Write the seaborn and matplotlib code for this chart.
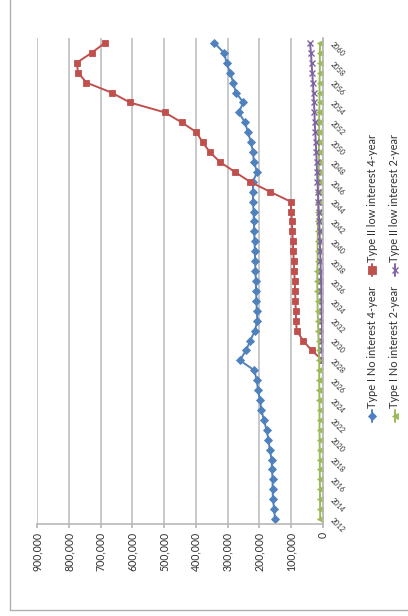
import numpy as np
import pandas as pd
import matplotlib
matplotlib.use("Agg")
import matplotlib.pyplot as plt
import seaborn as sns
from matplotlib.lines import Line2D

# Periods on the category axis (one label every second period)
periods = [str(y) for y in range(2012, 2061)]
nan = np.nan

type1_no_interest_4yr = [
    150500, 153000, 157000, 158000, 158000, 160000, 161000, 167000, 171000, 177000,
    186000, 193000, 198000, 204000, 208000, 216000, 261000, 242000, 228000, 214000,
    206000, 208000, 209000, 210000, 211000, 212000, 213000, 214000, 215000, 216000,
    217000, 218000, 220000, 220000, 220000, 207000, 217000, 220000, 226000, 236000,
    245000, 265000, 250000, 274000, 282000, 292000, 303000, 311000, 342000,
]
type2_low_interest_4yr = [nan] * 16 + [
    0, 35000, 62000, 82000, 84000, 85000, 86000, 87000, 88000, 90000,
    91000, 93000, 94000, 96000, 97000, 99000, 101000, 166000, 229000, 277000,
    324000, 356000, 379000, 398000, 445000, 498000, 608000, 666000, 745000, 771000,
    776000, 729000, 687000,
]
type1_no_interest_2yr = [
    8000, 8000, 8500, 8500, 9000, 9000, 9000, 9500, 9500, 10000,
    10000, 10000, 10500, 10500, 11000, 11000, 11000, 12000, 13000, 14000,
    15000, 16000, 16000, 17000, 17000, 17000, 16000, 16000, 16000, 15000,
    15000, 14000, 14000, 14000, 13000, 13000, 12000, 12000, 12000, 11000,
    11000, 11000, 10000, 10000, 10000, 9000, 9000, 9000, 8500,
]
type2_low_interest_2yr = [nan] * 16 + [
    0, 1000, 1500, 2000, 2500, 3000, 3500, 4500, 5000, 6000,
    7000, 8000, 9000, 10000, 11000, 12500, 14000, 15000, 16500, 18000,
    19000, 20500, 22000, 23500, 25000, 26000, 27500, 29000, 31000, 33000,
    35000, 37000, 40000,
]

series_names = [
    "Type I No interest 4-year",
    "Type II low interest 4-year",
    "Type I No interest 2-year",
    "Type II low interest 2-year",
]
series_values = [type1_no_interest_4yr, type2_low_interest_4yr,
                 type1_no_interest_2yr, type2_low_interest_2yr]
colors = ["#4F81BD", "#C0504D", "#9BBB59", "#8064A2"]
markers = ["D", "s", "<", "x"]
msizes = [3.6, 4.6, 4.0, 4.0]

value_ticks = list(range(0, 900001, 100000))

sns.set_theme(style="white")
plt.rcParams["font.family"] = ["Lato", "DejaVu Sans"]

W, H = 408, 616
fig = plt.figure(figsize=(W / 100, H / 100), dpi=100)
fig.patch.set_facecolor("white")

# plot area in pixel terms
x0, x1, y0, y1 = 37.3, 322.7, 38, 524
ax = fig.add_axes([x0 / W, 1 - y1 / H, (x1 - x0) / W, (y1 - y0) / H])

for name, vals, c, m, ms in zip(series_names, series_values, colors, markers, msizes):
    df = pd.DataFrame({"period": np.arange(len(periods)), "value": vals}).dropna()
    sns.lineplot(data=df, x="value", y="period", orient="y", sort=False,
                 estimator=None, color=c, marker=m, markersize=ms,
                 markeredgecolor=c, markeredgewidth=1.0 if m == "x" else 0.6,
                 linewidth=1.4, ax=ax, legend=False)

ax.set_xlim(900000, 0)
ax.set_ylim(-0.5, len(periods) - 0.5)
ax.set_xlabel("")
ax.set_ylabel("")

ax.set_xticks(value_ticks)
ax.set_xticklabels([f"{v:,}" for v in value_ticks], rotation=90, fontsize=7.6,
                   color="#303030")
ax.grid(axis="x", color="#C4C4C4", linewidth=1.3)
ax.grid(axis="y", visible=False)
ax.set_axisbelow(True)

for s in ["top", "left"]:
    ax.spines[s].set_visible(False)
ax.spines["bottom"].set_color("#B8B8B8")
ax.spines["bottom"].set_linewidth(1.2)
ax.spines["right"].set_color("#B8B8B8")
ax.spines["right"].set_linewidth(1.2)

ax.tick_params(axis="x", bottom=True, length=3, color="#B8B8B8", pad=3)
ax.yaxis.set_ticks_position("right")
ax.set_yticks(range(0, len(periods), 2))
ax.set_yticklabels(periods[::2], fontsize=5.2, color="#303030")
ax.tick_params(axis="y", right=True, length=0, pad=6)
for lab in ax.get_yticklabels():
    lab.set_rotation(-45)
    lab.set_rotation_mode("anchor")
    lab.set_ha("left")
    lab.set_va("center")

# legend, two columns of vertical entries
legend_pos = [(372, 416), (372, 270), (395, 416), (395, 270)]
for (lx, ly), name, c, m, ms in zip(legend_pos, series_names, colors, markers, msizes):
    fx = lx / W
    fig.add_artist(Line2D([fx, fx, fx], [1 - (ly + 6) / H, 1 - ly / H, 1 - (ly - 6) / H],
                          color=c, lw=1.4, marker=m, markersize=ms + 0.6, markevery=[1],
                          markeredgecolor=c, markeredgewidth=1.0 if m == "x" else 0.6))
    fig.text(fx, 1 - (ly - 8) / H, name, rotation=90, rotation_mode="anchor",
             ha="left", va="center", fontsize=7.9, color="#303030")

# chart frame
fig.add_artist(Line2D([9.5 / W, 9.5 / W], [1.0, 1 - 610 / H], color="#B0B0B0", lw=1.0))
fig.add_artist(Line2D([9.5 / W, 1.0], [1 - 610 / H, 1 - 610 / H], color="#B0B0B0", lw=1.0))

fig.savefig("out.png", dpi=100)
